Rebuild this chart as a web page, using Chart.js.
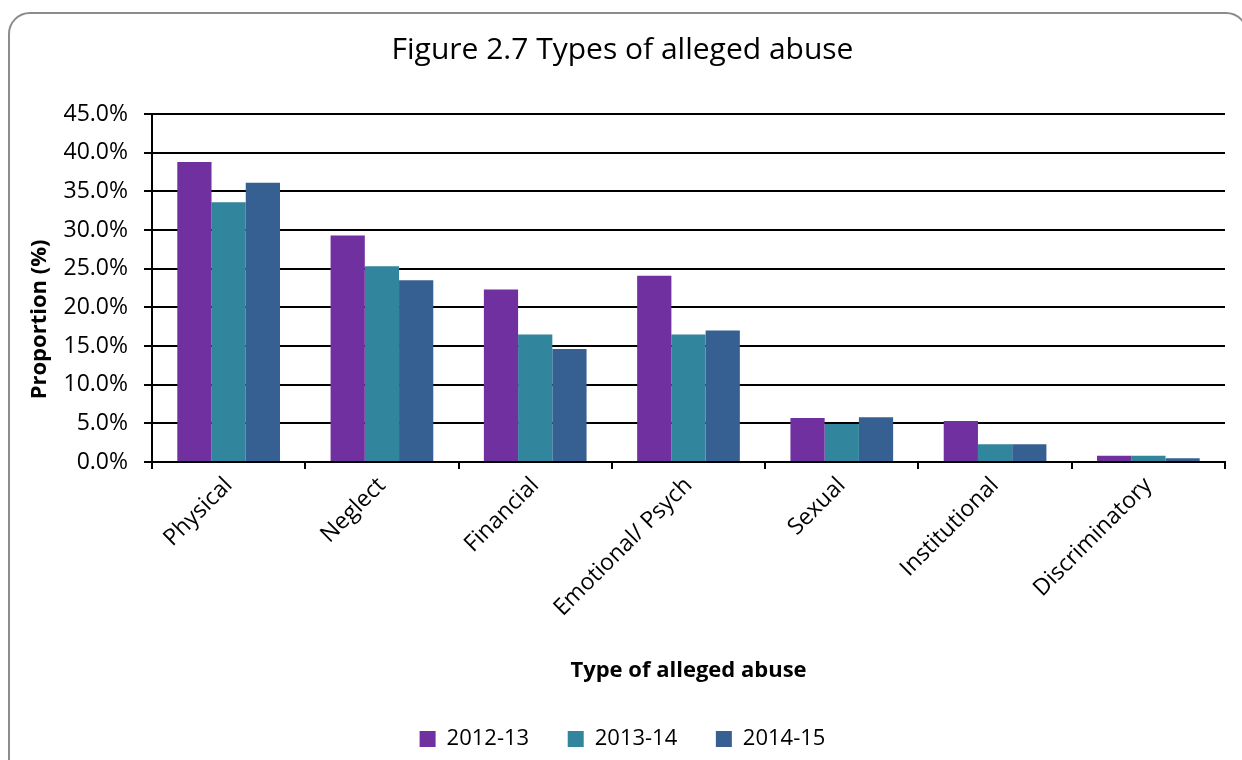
<!DOCTYPE html>
<html>
<head>
<meta charset="utf-8">
<script src="https://cdn.jsdelivr.net/npm/chart.js@4.4.1/dist/chart.umd.min.js"></script>
<style>
	body { margin: 0; background: #fff; }
	.frame {
		position: absolute; left: 8px; top: 12px; width: 1240px; height: 800px;
		border: 2px solid #8c8c8c; border-radius: 22px; box-sizing: border-box;
	}
	.wrap { position: absolute; left: 0; top: 0; width: 1242px; height: 760px; }
</style>
</head>
<body>
<div class="frame"></div>
<div class="wrap"><canvas id="abuseChart" width="1242" height="760"></canvas></div>
<script>
const categories = ['Physical', 'Neglect', 'Financial', 'Emotional/ Psych', 'Sexual', 'Institutional', 'Discriminatory'];
const years = ['2012-13', '2013-14', '2014-15'];
const values1213 = [38.8, 29.3, 22.3, 24.1, 5.7, 5.3, 0.8];
const values1314 = [33.6, 25.3, 16.5, 16.5, 4.9, 2.3, 0.8];
const values1415 = [36.1, 23.5, 14.6, 17.0, 5.8, 2.3, 0.5];
const colors = ['#7030A0', '#31859C', '#376092'];
const yTicks = [0, 5, 10, 15, 20, 25, 30, 35, 40, 45];

const font = "'Open Sans', 'Noto Sans', sans-serif";

let ctx = document.getElementById('abuseChart');

const chart = new Chart(ctx, {
	type: 'bar',
	data: {
		labels: categories,
		datasets: [values1213, values1314, values1415].map((vals, i) => ({
			label: years[i],
			data: vals,
			backgroundColor: colors[i],
			borderWidth: 0,
			barPercentage: 1.0,
			categoryPercentage: 0.67
		}))
	},
	options: {
		responsive: false,
		animation: false,
		layout: { padding: { left: 20, right: 17, top: 0, bottom: 0 } },
		plugins: {
			title: {
				display: true,
				text: 'Figure 2.7 Types of alleged abuse',
				color: '#000',
				font: { family: font, size: 30, weight: 'normal' },
				padding: { top: 32, bottom: 46 }
			},
			legend: {
				position: 'bottom',
				labels: {
					color: '#000',
					font: { family: font, size: 22 },
					boxWidth: 16,
					boxHeight: 16,
					padding: 10,
					// wider gaps between items, as in the original
					generateLabels: c => {
						let items = Chart.defaults.plugins.legend.labels.generateLabels(c);
						items.forEach((item, i) => {
							if (i < items.length - 1) item.text += '\u00A0'.repeat(5);
						});
						return items;
					}
				}
			},
			tooltip: { enabled: false }
		},
		scales: {
			x: {
				grid: { display: true, drawOnChartArea: false, color: '#000', lineWidth: 2, tickLength: 7, offset: true },
				border: { color: '#000', width: 2 },
				ticks: {
					color: '#000',
					font: { family: font, size: 23 },
					maxRotation: 45,
					minRotation: 45,
					autoSkip: false
				},
				title: {
					display: true,
					text: 'Type of alleged abuse',
					color: '#000',
					font: { family: font, size: 22, weight: 'bold' },
					padding: { top: 0, bottom: 34 }
				},
				afterFit: scale => { scale.height = 256; }
			},
			y: {
				min: 0,
				max: 45,
				afterBuildTicks: scale => { scale.ticks = yTicks.map(v => ({ value: v })); },
				grid: { color: '#000', lineWidth: 2, tickLength: 8 },
				border: { color: '#000', width: 2 },
				ticks: {
					color: '#000',
					font: { family: font, size: 23 },
					padding: 16,
					callback: v => v.toFixed(1) + '%'
				},
				title: {
					display: true,
					// trailing spaces nudge the rotated label down like the original
					text: 'Proportion (%)' + '\u00A0'.repeat(11),
					color: '#000',
					font: { family: font, size: 22, weight: 'bold' },
					padding: { top: 7, bottom: 0 }
				},
				afterFit: scale => { scale.width = 132; }
			}
		}
	}
});
</script>
</body>
</html>
